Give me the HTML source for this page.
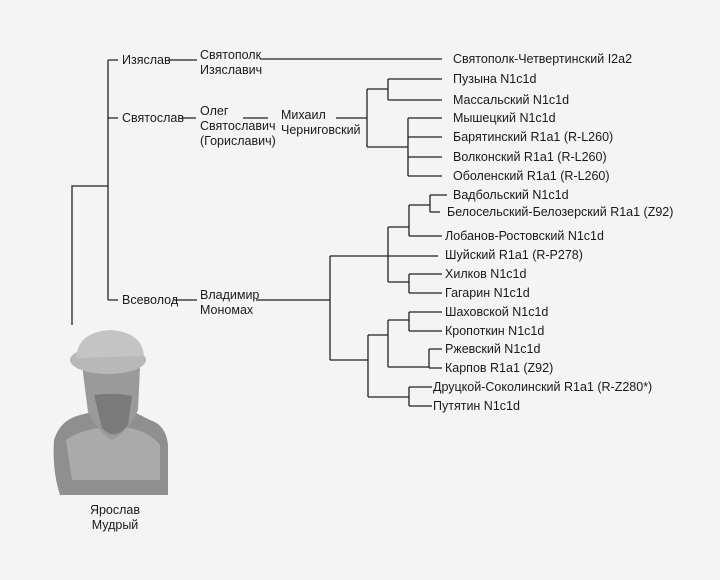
<!DOCTYPE html>
<html><head><meta charset="utf-8"><style>
html,body{margin:0;padding:0;background:#f4f4f4}
svg{display:block}
text{font-family:"Liberation Sans",sans-serif;font-size:12.5px;fill:#1a1a1a;dominant-baseline:central}
</style></head><body>
<svg width="720" height="580" viewBox="0 0 720 580" xmlns="http://www.w3.org/2000/svg">
<rect width="720" height="580" fill="#f4f4f4"/>
<g stroke="#222" stroke-width="1.3" fill="none">
<path d="M72 325V186H108M108 60V300M108 60H118M108 118H118M108 300H118"/>
<path d="M169 60H197M260 59H442"/>
<path d="M182 118H196M243 118H268M336 118H367M367 89V147M367 89H388M388 79V100M388 79H442M388 100H442M367 147H408M408 118V176M408 118H442M408 137H442M408 157H442M408 176H442"/>
<path d="M174 300H197M256 300H330M330 256V360M330 256H438M388 227V282M388 227H409M409 205V236M409 205H430M430 195V212M430 195H447M430 212H440M409 236H442M388 282H409M409 274V293M409 274H442M409 293H442"/>
<path d="M330 360H368M368 335V397M368 335H388M388 320V367M388 320H409M409 312V331M409 312H442M409 331H442M388 367H429M429 349V368M429 349H442M429 368H442M368 397H409M409 387V406M409 387H432M409 406H432"/>
</g>
<g>
<text x="122" y="60">Изяслав</text>
<text x="200" y="55">Святополк</text><text x="200" y="70">Изяславич</text>
<text x="122" y="118">Святослав</text>
<text x="200" y="111">Олег</text><text x="200" y="126">Святославич</text><text x="200" y="141">(Гориславич)</text>
<text x="281" y="115">Михаил</text><text x="281" y="130">Черниговский</text>
<text x="122" y="300">Всеволод</text>
<text x="200" y="295">Владимир</text><text x="200" y="310">Мономах</text>
<text x="453" y="59">Святополк-Четвертинский I2a2</text>
<text x="453" y="79">Пузына N1c1d</text>
<text x="453" y="100">Массальский N1c1d</text>
<text x="453" y="118">Мышецкий N1c1d</text>
<text x="453" y="137">Барятинский R1a1 (R-L260)</text>
<text x="453" y="157">Волконский R1a1 (R-L260)</text>
<text x="453" y="176">Оболенский R1a1 (R-L260)</text>
<text x="453" y="195">Вадбольский N1c1d</text>
<text x="447" y="212">Белосельский-Белозерский R1a1 (Z92)</text>
<text x="445" y="236">Лобанов-Ростовский N1c1d</text>
<text x="445" y="255">Шуйский R1a1 (R-P278)</text>
<text x="445" y="274">Хилков N1c1d</text>
<text x="445" y="293">Гагарин N1c1d</text>
<text x="445" y="312">Шаховской N1c1d</text>
<text x="445" y="331">Кропоткин N1c1d</text>
<text x="445" y="349">Ржевский N1c1d</text>
<text x="445" y="368">Карпов R1a1 (Z92)</text>
<text x="433" y="387">Друцкой-Соколинский R1a1 (R-Z280*)</text>
<text x="433" y="406">Путятин N1c1d</text>
<text x="115" y="510" text-anchor="middle">Ярослав</text>
<text x="115" y="525" text-anchor="middle">Мудрый</text>
</g>
<g>
<path d="M54 440Q60 420 80 415L100 410H130L150 420Q166 425 168 445V495H60Q52 470 54 440Z" fill="#8f8f8f"/>
<path d="M66 440Q80 430 100 428H130Q150 432 160 445V480H72Z" fill="#aaa"/>
<path d="M82 365Q84 355 110 352Q138 355 140 368L138 410Q130 430 112 440Q96 430 88 412Z" fill="#9a9a9a"/>
<path d="M94 395Q110 392 132 396L128 425Q115 442 102 428Z" fill="#7a7a7a"/>
<ellipse cx="108" cy="360" rx="38" ry="14" fill="#b8b8b8"/>
<path d="M76 358Q78 332 110 330Q142 332 144 356Z" fill="#c4c4c4"/>
</g>
</svg>
</body></html>
